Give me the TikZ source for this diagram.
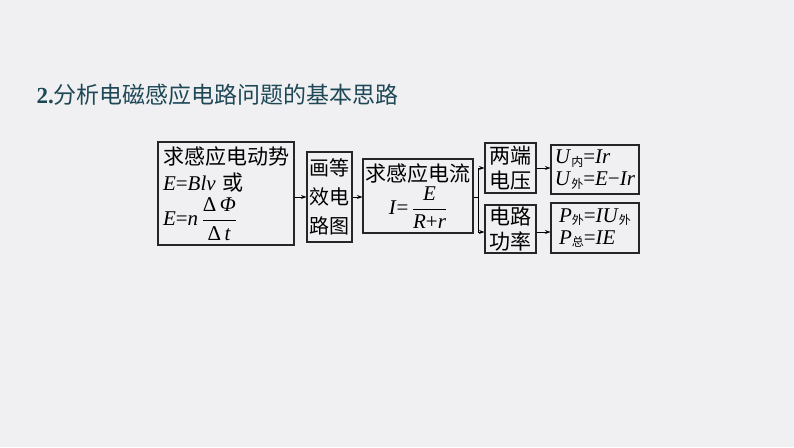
\documentclass[tikz,border=0pt]{standalone}
\usepackage{amsmath}
\usepackage{fontspec}
\setmainfont{Liberation Serif}
\newfontfamily\cjk{Noto Sans CJK SC}
\usepackage{tikz}
\usetikzlibrary{arrows.meta}
\usetikzlibrary{calc}
\definecolor{bgcol}{RGB}{240,240,242}
\definecolor{titlecol}{RGB}{30,72,86}
\newcommand{\zh}[1]{{\cjk #1}}
\newcommand{\xb}[1]{\raisebox{-2.5pt}{\fontsize{12}{12}\selectfont\cjk #1}}
\tikzset{box/.style={draw=black!85,line width=1.1pt,inner sep=2pt,font=\fontsize{21}{25}\selectfont},
  link/.style={line width=0.9pt,-{Stealth[length=5.5pt,width=4pt]}}}

\begin{document}
\begin{tikzpicture}[x=1pt,y=-1pt]
      \fill[bgcol] (0,0) rectangle (794,447);
      \useasboundingbox (0,0) rectangle (794,447);

      \node[anchor=west,text=titlecol,font=\fontsize{23}{23}\selectfont] (title) at (33,95) {\textbf{2.}\zh{分析电磁感应电路问题的基本思路}};

      \node[box,minimum width=136,minimum height=103] (emf) at (226,193.5)
        {\begin{tabular}{@{}l@{}}
         \zh{求感应电动势}\\[1pt]
         \textit{E}=\textit{Blv}\,\,\zh{或}\\[0pt]
         \textit{E}=\textit{n}\,$\dfrac{\mbox{Δ\,\textit{Φ}}}{\mbox{Δ\,\textit{t}}}$
         \end{tabular}};
      \node[box,minimum width=45,minimum height=90,align=center,inner sep=0pt,font=\fontsize{20}{29}\selectfont] (circ) at (329.5,197)
        {\zh{画等}\\\zh{效电}\\\zh{路图}};
      \node[box,minimum width=110,minimum height=74] (cur) at (418,196)
        {\begin{tabular}{@{}c@{}}
         \zh{求感应电流}\\[-2pt]
         \textit{I}=\,$\dfrac{\mbox{\textit{E}}}{\mbox{\textit{R}+\textit{r}}}$
         \end{tabular}};
      \node[box,minimum width=51,minimum height=50,align=center,inner sep=0pt] (volt) at (510.5,168)
        {\zh{两端}\\\zh{电压}};
      \node[box,minimum width=51,minimum height=48,align=center,inner sep=0pt] (pow) at (510.5,229)
        {\zh{电路}\\\zh{功率}};
      \node[box,minimum width=88,minimum height=49,align=left,inner sep=0pt,font=\fontsize{21}{22}\selectfont] (ueq) at (595,169.5)
        {\textit{U}\xb{内}=\textit{Ir}\\\textit{U}\xb{外}=\textit{E}−\textit{Ir}};
      \node[box,minimum width=88,minimum height=50,align=left,inner sep=0pt,font=\fontsize{21}{22}\selectfont] (peq) at (595,228)
        {\textit{P}\xb{外}=\textit{IU}\xb{外}\\\textit{P}\xb{总}=\textit{IE}};

      \coordinate (fork) at (478,197);
      \coordinate (powin) at ($(pow.west)+(0,3)$);
      \coordinate (powout) at ($(pow.east)+(0,3)$);
      \draw[link] (emf.east|-circ.west) -- (circ.west);
      \draw[link] (circ.east) -- (circ.east-|cur.west);
      \draw[line width=0.9pt] (cur.east|-fork) -- (fork);
      \draw[link] (fork) |- (volt.west);
      \draw[link] (fork) |- (powin);
      \draw[link] (volt.east) -- (volt.east-|ueq.west);
      \draw[link] (powout) -- (powout-|peq.west);
\end{tikzpicture}
\end{document}
